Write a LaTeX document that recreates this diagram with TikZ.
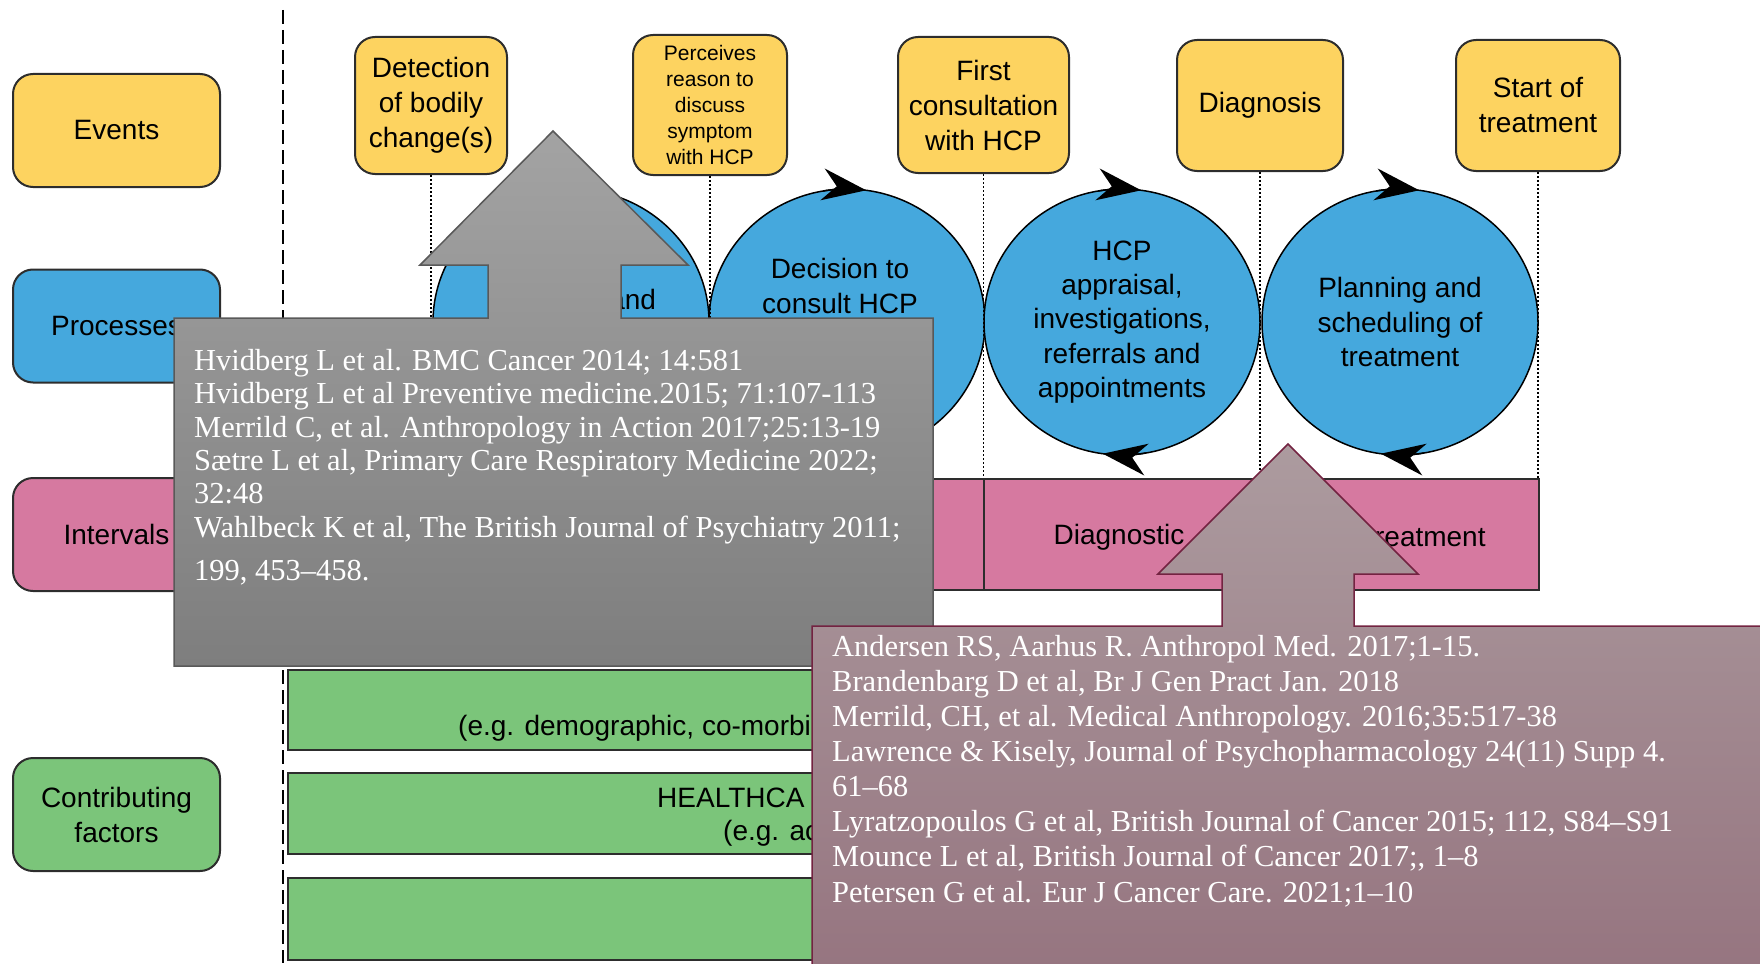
\documentclass[tikz,border=0pt]{standalone}
\usepackage{fontspec}
\setmainfont{Liberation Sans}
\newfontfamily\reffont{Liberation Serif}
\usetikzlibrary{shapes.geometric, arrows.meta}
\definecolor{evyellow}{RGB}{253,211,96}
\definecolor{prblue}{RGB}{69,168,221}
\definecolor{inpink}{RGB}{214,121,160}
\definecolor{cfgreen}{RGB}{123,197,122}
\definecolor{edgegray}{RGB}{45,45,45}
\definecolor{refmaroon}{RGB}{115,35,65}

\begin{document}
\begin{tikzpicture}[x=1pt, y=-1pt,
    lab/.style={draw=edgegray, line width=2pt, rounded corners=20pt, minimum width=207pt, minimum height=113pt, align=center, inner sep=0pt, font=\fontsize{28}{35}\selectfont},
    ev/.style={draw=edgegray, line width=2pt, rounded corners=20pt, fill=evyellow, align=center, inner sep=0pt, font=\fontsize{28}{35}\selectfont},
    proc/.style={ellipse, draw=black, line width=1.5pt, fill=prblue, minimum width=276pt, minimum height=266pt, inner sep=0pt, align=center, font=\fontsize{28}{34.3}\selectfont},
    bar/.style={draw=edgegray, line width=2pt, inner sep=0pt},
    txt/.style={align=center, inner sep=0pt, font=\fontsize{28}{35}\selectfont},
    dots/.style={dash pattern=on 1.5pt off 2.5pt, line width=1.2pt},
    cyc/.style={-{Stealth[length=44pt, width=32pt]}, line width=1.5pt},
    ref/.style={anchor=north west, align=left, text=white, inner sep=0pt, font=\reffont\fontsize{30.5}{33.4}\selectfont}
  ]
  \useasboundingbox (0,0) rectangle (1760,963);
  \coordinate (sepa) at (283,10);
  \coordinate (sepb) at (283,963);
  \draw[line width=1.5pt, dash pattern=on 14pt off 6pt] (sepa) -- (sepb);

  \node[lab, fill=evyellow] (levents) at (116.5,130.5) {Events};
  \node[lab, fill=prblue] (lproc) at (116.5,326) {Processes};
  \node[lab, fill=inpink] (lint) at (116.5,534.5) {Intervals};
  \node[lab, fill=cfgreen] (lcontrib) at (116.5,814.5) {Contributing\\factors};

  \node[ev, minimum width=152pt, minimum height=137pt] (detect) at (431,105.5) {Detection\\of bodily\\change(s)};
  \node[ev, minimum width=154pt, minimum height=140pt, font=\fontsize{21}{25.8}\selectfont] (perceive) at (710,105) {Perceives\\reason to\\discuss\\symptom\\with HCP};
  \node[ev, minimum width=171pt, minimum height=136pt] (firstc) at (983.5,105) {First\\consultation\\with HCP};
  \node[ev, minimum width=166pt, minimum height=131pt] (diag) at (1260,105.5) {Diagnosis};
  \node[ev, minimum width=164pt, minimum height=131pt] (start) at (1538,105.5) {Start of\\treatment};

  \node[bar, fill=inpink, minimum width=1251pt, minimum height=111pt] (ivl) at (913.5,534.5) {};
  \foreach \e in {detect,perceive,firstc,diag}
    \draw[bar] (\e.south |- ivl.north) -- (\e.south |- ivl.south);
  \node[txt] (idiag) at (1119,537) {Diagnostic};
  \node[txt] (ipre) at (1400,537) {Pre-treatment};

  \node[proc] (p1) at (571,322) {};
  \node[proc] (p2) at (847,322) {};
  \node[proc] (p3) at (1122,322) {HCP\\appraisal,\\investigations,\\referrals and\\appointments};
  \node[proc] (p4) at (1400,322) {Planning and\\scheduling of\\treatment};
  \node[txt] (p1t) at (572,302) {appraisal and};
  \node[txt] (p2t) at (840,286) {Decision to\\consult HCP};
  \foreach \p in {p1,p2,p3,p4} {
    \draw[cyc] (\p.center) ++(-100:138 and 133) arc[start angle=-100, end angle=-82, x radius=138, y radius=133];
    \draw[cyc] (\p.center) ++(80:138 and 133) arc[start angle=80, end angle=98, x radius=138, y radius=133];
  }
  \foreach \e in {detect,perceive,firstc,diag,start}
    \draw[dots] (\e.south) -- (\e.south |- ivl.north);

  \node[bar, fill=cfgreen, minimum width=1251pt, minimum height=80pt] (fpat) at (913.5,710) {};
  \node[bar, fill=cfgreen, minimum width=1251pt, minimum height=81pt] (fhcs) at (913.5,813.5) {};
  \node[bar, fill=cfgreen, minimum width=1251pt, minimum height=82pt] (fdis) at (913.5,919) {};
  \node[txt, anchor=west] (fpatt) at (458,728) {(e.g. demographic, co-morbi};
  \node[txt, anchor=west] (fhcst) at (657,798) {HEALTHCA};
  \node[txt, anchor=west] (fhcse) at (723,833) {(e.g. ac};

  \path[draw=black!65, line width=1.5pt, top color={rgb,255:red,163;green,163;blue,163}, bottom color={rgb,255:red,126;green,126;blue,126}]
    (174,318) -- (488,318) -- (488,265) -- (420,265) -- (553,131) -- (688,265) -- (621,265) -- (621,318)
    -- (933,318) -- (933,666) -- (174,666) -- cycle;
  \node[ref] (gref) at (194,349) {Hvidberg L et al. BMC Cancer 2014; 14:581\\
    Hvidberg L et al Preventive medicine.2015;  71:107-113\\
    Merrild C, et al. Anthropology in Action 2017;25:13-19\\
    Sætre L et al, Primary Care Respiratory Medicine 2022;\\
    32:48\\
    Wahlbeck K et al, The British Journal of Psychiatry 2011;\\[10pt]
    199, 453–458.};

  \path[draw=refmaroon, line width=1.5pt, top color={rgb,255:red,172;green,155;blue,159}, bottom color={rgb,255:red,150;green,117;blue,128}]
    (812,626) -- (1222,626) -- (1222,574) -- (1158,574) -- (1288,444) -- (1418,574) -- (1354,574) -- (1354,626)
    -- (1768,626) -- (1768,968) -- (812,968) -- cycle;
  \node[ref, font=\reffont\fontsize{30.5}{35.1}\selectfont] (mref) at (832,635) {Andersen RS, Aarhus R. Anthropol Med. 2017;1-15.\\
    Brandenbarg D et al, Br J Gen Pract Jan. 2018\\
    Merrild, CH, et al. Medical Anthropology. 2016;35:517-38\\
    Lawrence \& Kisely, Journal of Psychopharmacology 24(11) Supp 4.\\
    61–68\\
    Lyratzopoulos G et al, British Journal of Cancer 2015; 112, S84–S91\\
    Mounce L et al, British Journal of Cancer 2017;, 1–8\\
    Petersen G  et al. Eur J Cancer Care. 2021;1–10};
\end{tikzpicture}
\end{document}
